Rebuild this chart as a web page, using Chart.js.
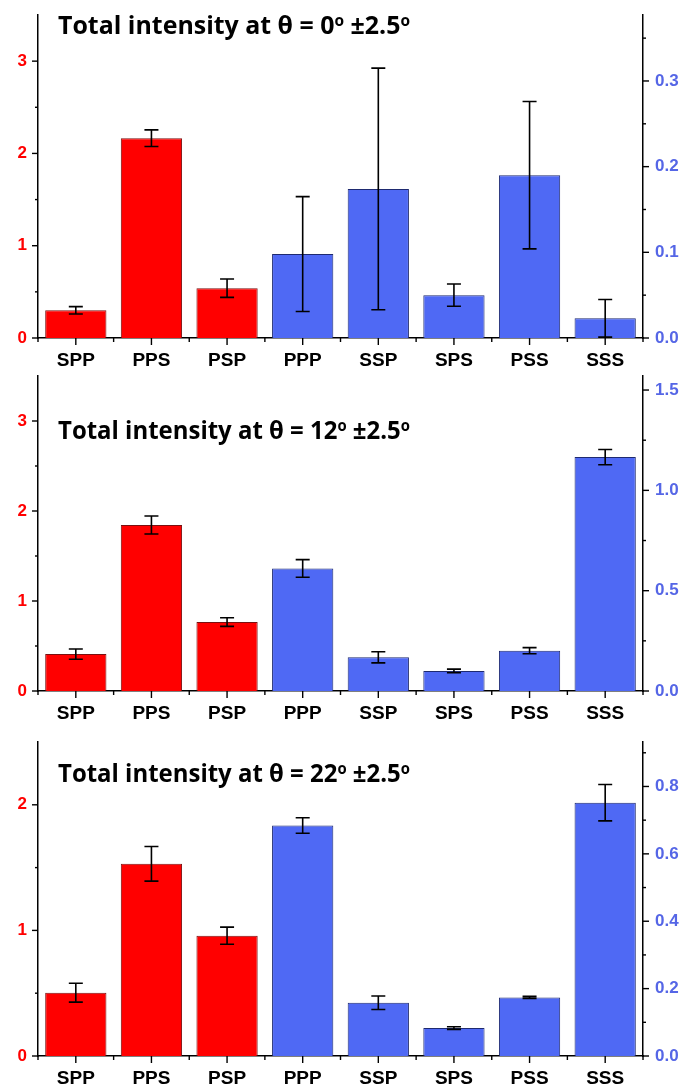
<!DOCTYPE html>
<html lang="en">
<head>
<meta charset="UTF-8">
<title>Total intensity</title>
<script src="https://cdn.jsdelivr.net/npm/chart.js"></script>
<style>
  body { margin: 0; background: #fff; }
  #wrap { position: relative; width: 683px; height: 1084px; overflow: hidden; }
  .panel { position: absolute; left: 0; width: 683px; }
  .panel canvas { display: block; }
  .title { position: absolute; left: 58px; font-family: 'Open Sans', sans-serif; font-weight: 700;
           font-size: 25px; line-height: 1; color: #000; white-space: nowrap; transform-origin: 0 0; }
  .title sup { font-size: 0.62em; vertical-align: 0.5em; line-height: 0; }
</style>
</head>
<body>
<div id="wrap">
  <div class="panel" style="top:0;height:368px"><canvas id="c0"></canvas></div>
  <div class="panel" style="top:368px;height:354px"><canvas id="c1"></canvas></div>
  <div class="panel" style="top:722px;height:362px"><canvas id="c2"></canvas></div>
  <div class="title" style="top:12px">Total intensity at θ = 0<sup>o</sup> ±2.5<sup>o</sup></div>
  <div class="title" style="top:417px">Total intensity at θ = 12<sup>o</sup> ±2.5<sup>o</sup></div>
  <div class="title" style="top:760px">Total intensity at θ = 22<sup>o</sup> ±2.5<sup>o</sup></div>
</div>
<script>
const categories = ['SPP', 'PPS', 'PSP', 'PPP', 'SSP', 'SPS', 'PSS', 'SSS'];
// first three polarisations are read on the left (red) axis, the rest on the right (blue) axis
const leftCount = 3;

// theta = 0
const values0 = [0.30, 2.165, 0.54, 0.098, 0.174, 0.050, 0.190, 0.023];
const errors0 = [0.04, 0.09, 0.10, 0.067, 0.141, 0.013, 0.086, 0.022];
// theta = 12
const values1 = [0.41, 1.845, 0.766, 0.611, 0.168, 0.100, 0.201, 1.166];
const errors1 = [0.057, 0.10, 0.048, 0.044, 0.028, 0.009, 0.015, 0.038];
// theta = 22
const values2 = [0.504, 1.53, 0.958, 0.684, 0.158, 0.083, 0.174, 0.752];
const errors2 = [0.075, 0.138, 0.068, 0.023, 0.02, 0.004, 0.003, 0.054];

const RED = '#ff0000';
const BLUE = '#4f69f4';
const BLUE_TEXT = '#5566e6';

// error bars drawn on top of the bars
const errorBars = {
  id: 'errorBars',
  afterDatasetsDraw(chart) {
    const ctx = chart.ctx;
    ctx.save();
    ctx.strokeStyle = '#000';
    ctx.lineWidth = 1.6;
    chart.data.datasets.forEach((ds, di) => {
      const meta = chart.getDatasetMeta(di);
      const s = chart.scales[ds.yAxisID];
      ds.data.forEach((v, i) => {
        if (v == null) return;
        const e = ds.errors[i];
        const x = meta.data[i].x;
        const y1 = s.getPixelForValue(v + e);
        const y2 = s.getPixelForValue(v - e);
        ctx.beginPath();
        ctx.moveTo(x, y1); ctx.lineTo(x, y2);
        ctx.moveTo(x - 7, y1); ctx.lineTo(x + 7, y1);
        ctx.moveTo(x - 7, y2); ctx.lineTo(x + 7, y2);
        ctx.stroke();
      });
    });
    ctx.restore();
  }
};

// major / minor tick marks on the three axes
const axisTicks = {
  id: 'axisTicks',
  afterDraw(chart, args, opts) {
    const { ctx, chartArea: a, scales } = chart;
    ctx.save();
    ctx.strokeStyle = '#000';
    ctx.lineWidth = 1.4;
    const line = (x1, y1, x2, y2) => { ctx.beginPath(); ctx.moveTo(x1, y1); ctx.lineTo(x2, y2); ctx.stroke(); };

    const x = scales.x;
    const n = categories.length;
    const w = x.getPixelForValue(1) - x.getPixelForValue(0);
    for (let i = 0; i < n; i++) {
      const c = x.getPixelForValue(i);
      line(c, a.bottom, c, a.bottom + 7);
    }
    for (let i = 0; i <= n; i++) {
      const b = x.getPixelForValue(0) - w / 2 + i * w;
      line(b, a.bottom, b, a.bottom + 4);
    }

    [['y', -1, a.left], ['y1', 1, a.right]].forEach(([id, dir, x0]) => {
      const s = scales[id];
      const labelStep = opts[id];
      s.ticks.forEach(t => {
        const v = t.value;
        if (v > s.max - 1e-9 && v !== 0) return;
        const major = isMultiple(v, labelStep);
        const len = major ? 6 : 3;
        const py = s.getPixelForValue(v);
        line(x0, py, x0 + dir * len, py);
      });
    });
    ctx.restore();
  }
};

function isMultiple(v, step) {
  const r = v / step;
  return Math.abs(r - Math.round(r)) < 1e-6;
}

function noPad(s) {
  s.paddingTop = 0; s.paddingBottom = 0; s.paddingLeft = 0; s.paddingRight = 0;
}

function makeChart(id, values, errors, leftMax, rightMax, rightStep, rightLabelStep, xHeight, padTop) {
  const leftData = values.map((v, i) => i < leftCount ? v : null);
  const rightData = values.map((v, i) => i < leftCount ? null : v);
  const tickFont = { family: 'Liberation Sans', weight: 'bold', size: 17 };
  const border = { display: true, color: '#000', width: 1.5 };

  return new Chart(document.getElementById(id), {
    type: 'bar',
    data: {
      labels: categories,
      datasets: [{
        data: leftData,
        errors: errors,
        yAxisID: 'y',
        backgroundColor: RED,
        borderColor: '#7a1010',
        borderWidth: 1
      }, {
        data: rightData,
        errors: errors,
        yAxisID: 'y1',
        backgroundColor: BLUE,
        borderColor: '#1e2a70',
        borderWidth: 1
      }]
    },
    options: {
      responsive: true,
      maintainAspectRatio: false,
      animation: false,
      grouped: false,
      barPercentage: 0.81,
      categoryPercentage: 1,
      layout: { padding: { top: padTop, left: 0, right: 0, bottom: 0 } },
      plugins: {
        legend: { display: false },
        tooltip: { enabled: false },
        axisTicks: { y: 1, y1: rightLabelStep }
      },
      scales: {
        x: {
          offset: true,
          grid: { display: false, drawTicks: false },
          border: border,
          ticks: { color: '#000', font: { family: 'Liberation Sans', weight: 'bold', size: 19 },
                   padding: 11, maxRotation: 0, autoSkip: false },
          afterFit: s => { s.height = xHeight; noPad(s); }
        },
        y: {
          position: 'left',
          min: 0, max: leftMax,
          grid: { display: false, drawTicks: false },
          border: border,
          ticks: { stepSize: 0.5, includeBounds: false, color: RED, font: tickFont, padding: 11,
                   callback: v => (isMultiple(v, 1) && v < leftMax) ? String(v) : '' },
          afterFit: s => { s.width = 38; noPad(s); }
        },
        y1: {
          position: 'right',
          min: 0, max: rightMax,
          grid: { display: false, drawTicks: false },
          border: border,
          ticks: { stepSize: rightStep, includeBounds: false, color: BLUE_TEXT, font: tickFont, padding: 12,
                   callback: v => (isMultiple(v, rightLabelStep) && v < rightMax - 1e-9) ? v.toFixed(1) : '' },
          afterFit: s => { s.width = 40; noPad(s); }
        }
      }
    },
    plugins: [errorBars, axisTicks]
  });
}

makeChart('c0', values0, errors0, 3.5, 0.377, 0.05, 0.1, 30, 15);
makeChart('c1', values1, errors1, 3.5, 1.57, 0.25, 0.5, 31, 8);
makeChart('c2', values2, errors2, 2.5, 0.932, 0.1, 0.2, 28, 20);

// squeeze the titles to the narrow width of the original lettering
document.querySelectorAll('.title').forEach(t => {
  const w = t.getBoundingClientRect().width;
  t.style.transform = 'scaleX(' + (352 / w) + ')';
});
</script>
</body>
</html>
